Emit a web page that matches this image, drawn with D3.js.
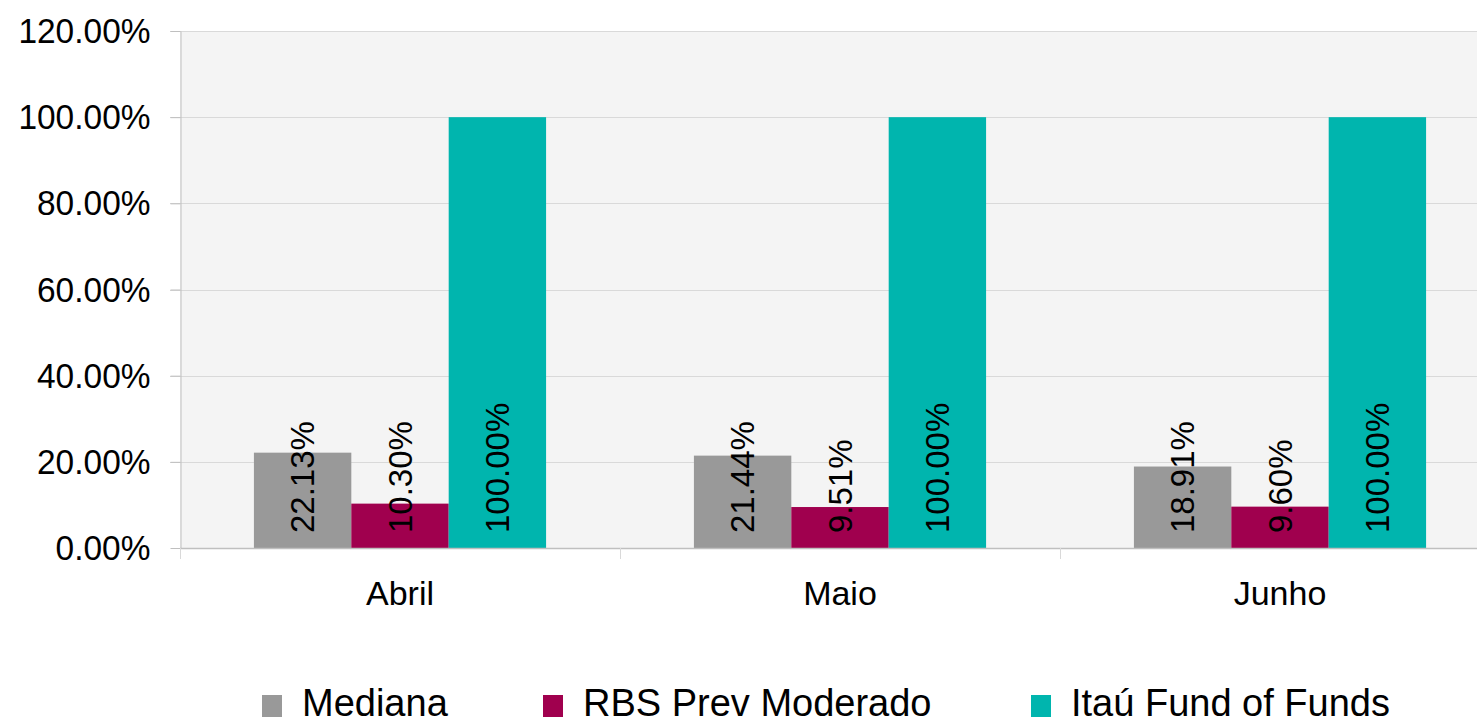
<!DOCTYPE html>
<html>
<head>
<meta charset="utf-8">
<script src="https://cdn.jsdelivr.net/npm/d3@7"></script>
<style>
  body { margin: 0; background: #fff; }
  svg { display: block; font-family: "Liberation Sans", Arial, sans-serif; }
  .axis path, .axis line { stroke: #bfbfbf; }
  .grid-line { stroke: #d9d9d9; stroke-width: 1; }
</style>
</head>
<body>
<svg id="chart"></svg>
<script>
// Chart data
var months = ["Abril", "Maio", "Junho"];
var seriesNames = ["Mediana", "RBS Prev Moderado", "Itaú Fund of Funds"];
var mediana = [0.2213, 0.2144, 0.1891];
var rbsPrev = [0.1030, 0.0951, 0.0960];
var itau = [1.0, 1.0, 1.0];
var yTicks = [0, 0.2, 0.4, 0.6, 0.8, 1.0, 1.2];
var colors = ["#999999", "#a0004e", "#00b5ae"];

var seriesValues = [mediana, rbsPrev, itau];

// SVG size params
var width = 1477;
var height = 723;
var plot = {left: 180, right: 1500, top: 31, bottom: 548};

var svg = d3.select("#chart")
    .attr("width", width)
    .attr("height", height);

// Scales
var x = d3.scaleBand()
    .domain(months)
    .range([plot.left, plot.right])
    .paddingInner(0.336)
    .paddingOuter(0.168);

var xSub = d3.scaleBand()
    .domain(seriesNames)
    .range([0, x.bandwidth()]);

var y = d3.scaleLinear()
    .domain([0, 1.2])
    .range([plot.bottom, plot.top]);

// Plot background
svg.append("rect")
    .attr("x", plot.left)
    .attr("y", plot.top)
    .attr("width", plot.right - plot.left)
    .attr("height", plot.bottom - plot.top)
    .attr("fill", "#f4f4f4");

// Grid lines
svg.append("g")
  .selectAll(".grid-line")
  .data(yTicks.slice(1))
  .enter().append("line")
    .attr("class", "grid-line")
    .attr("x1", plot.left - 10)
    .attr("x2", plot.right)
    .attr("y1", d => Math.round(y(d)) + 0.5)
    .attr("y2", d => Math.round(y(d)) + 0.5);

// Bars
var groups = svg.append("g")
  .selectAll("g")
  .data(months)
  .enter().append("g")
    .attr("transform", d => "translate(" + x(d) + ",0)");

groups.selectAll("rect")
  .data((m, i) => seriesNames.map((s, j) => ({series: s, value: seriesValues[j][i], idx: j})))
  .enter().append("rect")
    .attr("x", d => xSub(d.series))
    .attr("y", d => y(d.value))
    .attr("width", xSub.bandwidth())
    .attr("height", d => y(0) - y(d.value))
    .attr("fill", d => colors[d.idx]);

// Data labels
groups.selectAll("text")
  .data((m, i) => seriesNames.map((s, j) => ({series: s, value: seriesValues[j][i]})))
  .enter().append("text")
    .attr("transform", d => "translate(" + (xSub(d.series) + xSub.bandwidth() / 2) + "," + (y(0) - 15) + ") rotate(-90)")
    .attr("dy", "0.35em")
    .attr("font-size", 33)
    .attr("fill", "#000")
    .text(d => (d.value * 100).toFixed(2) + "%");

// Y axis
var yAxis = d3.axisLeft(y)
    .tickValues(yTicks)
    .tickSize(10)
    .tickPadding(18)
    .tickSizeOuter(0)
    .tickFormat(d => (d * 100).toFixed(2) + "%");

var yG = svg.append("g")
    .attr("class", "axis")
    .attr("transform", "translate(" + (plot.left + 0.5) + ",0)")
    .call(yAxis);
// slightly condensed tick labels
yG.selectAll("text")
    .attr("font-size", 36)
    .attr("fill", "#000")
    .attr("font-family", "Liberation Sans, Arial, sans-serif")
    .attr("x", -30 / 0.93)
    .attr("transform", "scale(0.93,1)");
yG.select(".domain").attr("stroke", "#bfbfbf");

// X axis line and boundary ticks
svg.append("line")
    .attr("x1", plot.left)
    .attr("x2", plot.right)
    .attr("y1", plot.bottom + 0.5)
    .attr("y2", plot.bottom + 0.5)
    .attr("stroke", "#bfbfbf")
    .attr("stroke-width", 1.5);

svg.append("g")
  .selectAll("line")
  .data(months)
  .enter().append("line")
    .attr("x1", d => Math.round(x(d) - x.step() * 0.168) + 0.5)
    .attr("x2", d => Math.round(x(d) - x.step() * 0.168) + 0.5)
    .attr("y1", plot.bottom)
    .attr("y2", plot.bottom + 11)
    .attr("stroke", "#d9d9d9");

// Category labels
svg.append("g")
  .selectAll("text")
  .data(months)
  .enter().append("text")
    .attr("x", d => x(d) + x.bandwidth() / 2)
    .attr("y", 605)
    .attr("text-anchor", "middle")
    .attr("font-size", 34)
    .text(d => d);

// Legend
var legendX = [262, 543, 1031];
var legend = svg.append("g")
  .selectAll("g")
  .data(seriesNames)
  .enter().append("g")
    .attr("transform", (d, i) => "translate(" + legendX[i] + ",0)");

legend.append("rect")
    .attr("x", 0)
    .attr("y", 695)
    .attr("width", 20)
    .attr("height", 22)
    .attr("fill", (d, i) => colors[i]);

legend.append("text")
    .attr("x", 40)
    .attr("y", 716)
    .attr("font-size", 38)
    .text(d => d);
</script>
</body>
</html>
